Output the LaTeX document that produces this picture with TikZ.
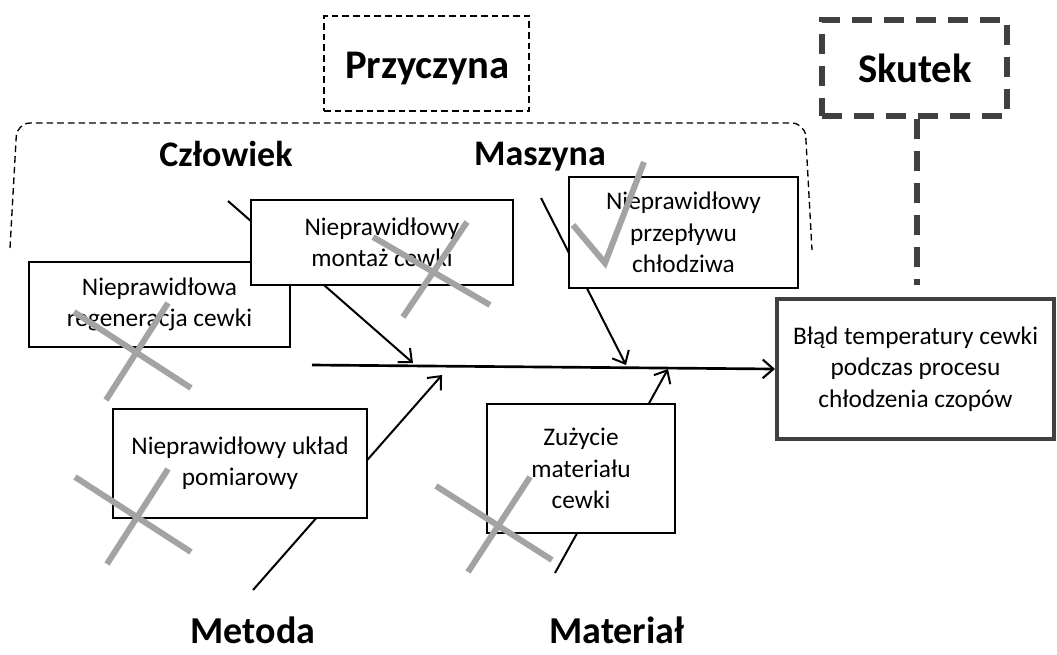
\documentclass[tikz,border=0pt]{standalone}
\usepackage{fontspec}
\setmainfont{Carlito}
\usetikzlibrary{arrows.meta}
\definecolor{darkline}{HTML}{404040}
\definecolor{markgray}{HTML}{A3A3A3}
\tikzset{
  causebox/.style={draw=black, line width=1.1pt, fill=white, align=center, inner sep=0pt,
    font=\fontsize{19}{23.5}\selectfont},
  effectbox/.style={draw=darkline, line width=3pt, fill=white, align=center, inner sep=0pt,
    font=\fontsize{19}{23.5}\selectfont},
  catlabel/.style={anchor=base, inner sep=0pt, font=\fontsize{27}{30}\selectfont\bfseries},
  botlabel/.style={anchor=base, inner sep=0pt, font=\fontsize{28.5}{30}\selectfont\bfseries},
  toplabel/.style={anchor=base, inner sep=0pt, font=\fontsize{30.5}{34}\selectfont\bfseries},
  thindash/.style={draw=black, line width=1pt, dash pattern=on 5pt off 3pt},
  thickdash/.style={draw=darkline, line width=4.5pt, dash pattern=on 15pt off 9pt},
  bone/.style={draw=black, line width=1.5pt, -{Straight Barb[length=8pt,width=14pt,line width=1.5pt]}},
  spine/.style={draw=black, line width=2pt, -{Straight Barb[length=8pt,width=14pt,line width=1.6pt]}},
  greymark/.style={draw=markgray, line width=4.5pt},
}
\begin{document}
\begin{tikzpicture}[x=0.75pt,y=-0.75pt]
\useasboundingbox (0,0) rectangle (1057,654);

% header boxes
\node[thindash, minimum width=153.75pt, minimum height=71.25pt] (cause) at (426.5,63.5) {};
\node[toplabel] (causetxt) at (427.5,78) {Przyczyna};
\node[thickdash, minimum width=138.75pt, minimum height=72pt] (skutek) at (914.5,68) {};
\node[toplabel] (skutektxt) at (915,82) {Skutek};

% dashed bracket around the upper causes
\coordinate (brA) at (10,248);
\coordinate (brB) at (17,123);
\coordinate (brC) at (805,123);
\coordinate (brD) at (812,250);
\draw[thindash, rounded corners=10pt] (brA) -- (brB) -- (brC) -- (brD);

% category labels
\node[catlabel] (czlowiek) at (226,166) {Człowiek};
\node[catlabel] (maszyna) at (540,165) {Maszyna};
\node[botlabel] (metoda) at (253,643) {Metoda};
\node[botlabel] (material) at (617,643) {Materiał};

% effect box
\node[effectbox, minimum width=207.75pt, minimum height=105pt] (effect) at (915.5,369)
  {Błąd temperatury cewki\\podczas procesu\\chłodzenia czopów};
\coordinate (skend) at (917,285);
\draw[thickdash] (skutek.south -| skend) -- (skend);

% spine
\coordinate (sp0) at (312,365);
\draw[spine] (sp0) -- (effect.west);

% bones
\coordinate (b1s) at (228,201);
\coordinate (b1t) at (413,363);
\coordinate (b2s) at (541,198);
\coordinate (b2t) at (626,365);
\coordinate (b3s) at (253,590);
\coordinate (b3t) at (442,375);
\coordinate (b4s) at (555,573);
\coordinate (b4t) at (668,369);

\node[causebox, minimum width=195.75pt, minimum height=63.75pt] (regen) at (159.5,304.5)
  {Nieprawidłowa\\regeneracja cewki};
\draw[bone] (b1s) -- (b1t);
\draw[bone] (b2s) -- (b2t);
\draw[bone] (b3s) -- (b3t);
\draw[bone] (b4s) -- (b4t);

\node[causebox, minimum width=196.5pt, minimum height=63.75pt] (montaz) at (382,242.5)
  {Nieprawidłowy\\montaż cewki};
\node[causebox, minimum width=171.75pt, minimum height=83.25pt] (przeplyw) at (683.5,232.5)
  {Nieprawidłowy\\przepływu\\chłodziwa};
\node[causebox, minimum width=190.5pt, minimum height=81.75pt] (uklad) at (240,463.5)
  {Nieprawidłowy układ\\pomiarowy};
\node[causebox, minimum width=141pt, minimum height=96.75pt] (zuzycie) at (581,468.5)
  {Zużycie\\materiału\\cewki};

% grey marks
\draw[greymark] (74,312) -- (191,388);
\draw[greymark] (106,400) -- (168,303);
\draw[greymark] (373,237) -- (490,305);
\draw[greymark] (403,317) -- (467,222);
\draw[greymark] (75,477) -- (191,552);
\draw[greymark] (107,564) -- (168,469);
\draw[greymark] (436,486) -- (552,560);
\draw[greymark] (468,572) -- (530,477);
\draw[greymark] (573,225) -- (605,263) -- (644,162);
\end{tikzpicture}
\end{document}
